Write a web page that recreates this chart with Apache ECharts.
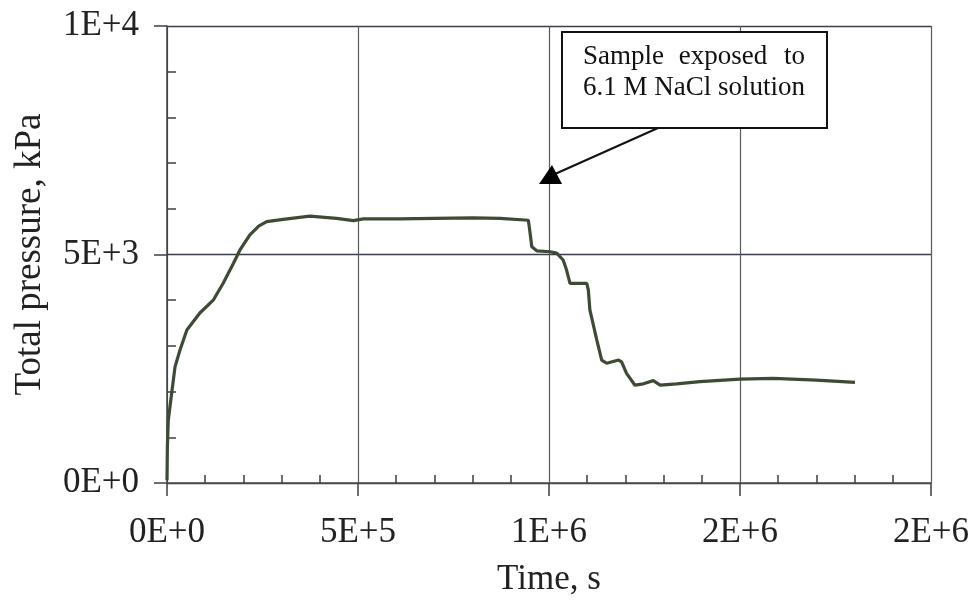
<!DOCTYPE html>
<html>
<head>
<meta charset="utf-8">
<script src="https://cdn.jsdelivr.net/npm/echarts@6/dist/echarts.min.js"></script>
<style>
html,body{margin:0;padding:0;background:#fff;}
#chart{width:975px;height:605px;}
</style>
</head>
<body>
<div id="chart"></div>
<script>
// ---- data ----
const timeS = [0, 1000, 3400, 12300, 21000, 34000, 52000, 86000, 121000, 147000, 174000, 191000, 217000, 240000, 261000, 304000, 374000, 444000, 488000, 514000, 610000, 700000, 800000, 872000, 946000, 950000, 955000, 968000, 1003000, 1020000, 1037000, 1046000, 1055000, 1099000, 1103000, 1107000, 1125000, 1138000, 1151000, 1182000, 1190000, 1203000, 1225000, 1247000, 1273000, 1291000, 1334000, 1395000, 1500000, 1587000, 1700000, 1801000];
const pressureKPa = [60, 800, 1380, 1970, 2540, 2910, 3350, 3720, 4000, 4370, 4810, 5100, 5430, 5620, 5720, 5770, 5840, 5790, 5740, 5780, 5780, 5790, 5800, 5790, 5750, 5500, 5170, 5080, 5060, 5030, 4880, 4660, 4370, 4370, 4220, 3790, 3130, 2690, 2620, 2690, 2650, 2400, 2140, 2170, 2240, 2140, 2170, 2220, 2275, 2290, 2250, 2200];
const xTickLabels = ['0E+0', '5E+5', '1E+6', '2E+6', '2E+6'];
const yTickLabels = ['0E+0', '5E+3', '1E+4'];
const xAxisTitle = 'Time, s';
const yAxisTitle = 'Total pressure, kPa';
const noteLine1 = ['Sample', 'exposed', 'to'];
const noteLine2 = '6.1 M NaCl solution';

const serif = "'Liberation Serif', 'Times New Roman', serif";
const noteFont = "27px 'Liberation Serif', 'Times New Roman', serif";
const seriesData = timeS.map((t, i) => [t, pressureKPa[i]]);

const chart = echarts.init(document.getElementById('chart'), null, {renderer: 'canvas'});
chart.setOption({
  backgroundColor: '#ffffff',
  animation: false,
  grid: {left: 167, right: 44, top: 26, bottom: 122, containLabel: false},
  xAxis: {
    type: 'value', min: 0, max: 2000000, interval: 500000,
    axisLine: {show: true, onZero: false, lineStyle: {color: '#4a4f48', width: 1.5}},
    axisTick: {show: true, inside: false, length: 13, lineStyle: {color: '#3c3f3c', width: 1.5}},
    minorTick: {show: true, splitNumber: 5, length: -8, lineStyle: {color: '#3c3f3c', width: 1.5}},
    splitLine: {show: true, lineStyle: {color: '#555a5a', width: 1.2}},
    axisLabel: {
      fontFamily: serif, fontSize: 35, color: '#222', margin: 32,
      formatter: (v, i) => xTickLabels[Math.round(v / 500000)]
    },
    name: xAxisTitle, nameLocation: 'middle', nameGap: 79,
    nameTextStyle: {fontFamily: serif, fontSize: 35, color: '#222'}
  },
  yAxis: {
    type: 'value', min: 0, max: 10000, interval: 5000,
    axisLine: {show: true, onZero: false, lineStyle: {color: '#3c3f44', width: 1.5}},
    axisTick: {show: true, inside: false, length: 13, lineStyle: {color: '#3c3f44', width: 1.5}},
    minorTick: {show: true, splitNumber: 5, length: -9, lineStyle: {color: '#3c3f44', width: 1.5}},
    splitLine: {show: true, lineStyle: {color: '#3a3d4a', width: 1.3}},
    axisLabel: {
      fontFamily: serif, fontSize: 35, color: '#222', margin: 28,
      formatter: (v, i) => yTickLabels[Math.round(v / 5000)]
    },
    name: yAxisTitle, nameLocation: 'middle', nameGap: 118,
    nameTextStyle: {fontFamily: serif, fontSize: 37, color: '#222'}
  },
  series: [{
    type: 'line', data: seriesData, showSymbol: false, smooth: false,
    lineStyle: {color: '#3e4a33', width: 3.2}
  }],
  graphic: [
    {type: 'rect', shape: {x: 562, y: 32, width: 265, height: 96},
     style: {fill: '#fff', stroke: '#111', lineWidth: 2}, z: 100},
    {type: 'text', x: 583, y: 43, z: 101,
     style: {text: noteLine1[0], font: noteFont, fill: '#111', align: 'left', verticalAlign: 'top'}},
    {type: 'text', x: 723, y: 43, z: 101,
     style: {text: noteLine1[1], font: noteFont, fill: '#111', align: 'center', verticalAlign: 'top'}},
    {type: 'text', x: 805, y: 43, z: 101,
     style: {text: noteLine1[2], font: noteFont, fill: '#111', align: 'right', verticalAlign: 'top'}},
    {type: 'text', x: 583, y: 74, z: 101,
     style: {text: noteLine2, font: noteFont, fill: '#111', align: 'left', verticalAlign: 'top'}},
    {type: 'line', shape: {x1: 658, y1: 128, x2: 555, y2: 174},
     style: {stroke: '#111', lineWidth: 2}, z: 100},
    {type: 'polygon', shape: {points: [[552, 165], [539, 184], [562, 184]]},
     style: {fill: '#000'}, z: 100}
  ]
});
</script>
</body>
</html>
